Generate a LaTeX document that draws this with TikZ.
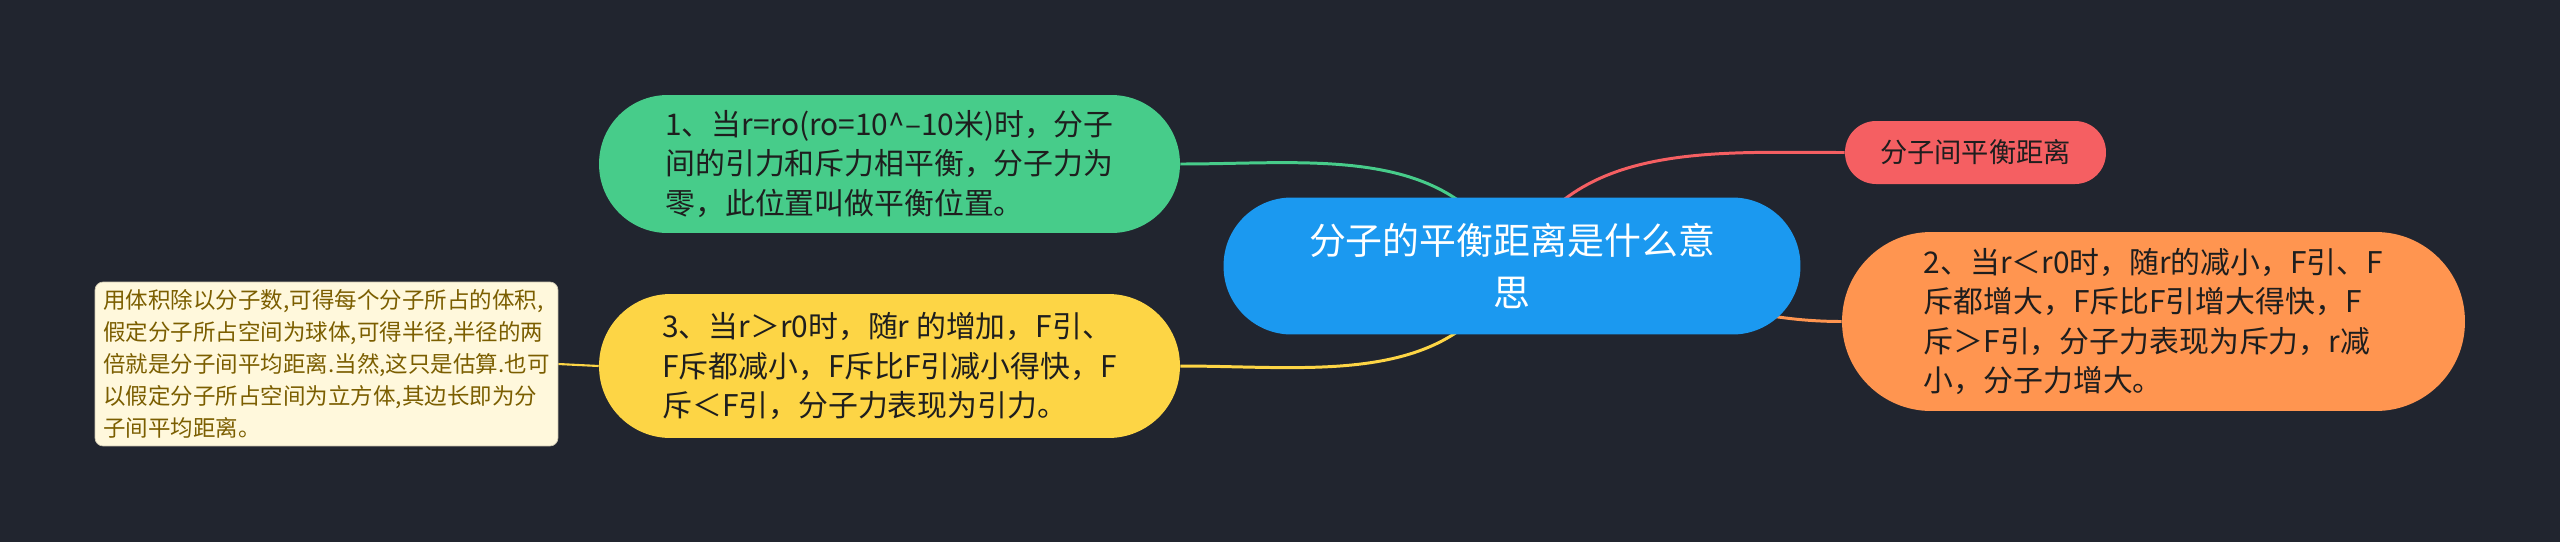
\documentclass[tikz,border=0pt]{standalone}
\usepackage{fontspec}
\setmainfont{Noto Sans CJK SC}

\definecolor{bgdark}{HTML}{21252F}
\definecolor{rootblue}{HTML}{1B99F0}
\definecolor{leafgreen}{HTML}{47CC8A}
\definecolor{leafred}{HTML}{F55F62}
\definecolor{leaforange}{HTML}{FF9550}
\definecolor{leafyellow}{HTML}{FDD545}
\definecolor{notefill}{HTML}{FFF8DC}
\definecolor{notetext}{HTML}{7B5E00}
\definecolor{textdark}{HTML}{1E1E1E}

\pgfdeclarelayer{bg}
\pgfdeclarelayer{edges}
\pgfsetlayers{bg,edges,main}

\tikzset{
    root/.style={
      fill=rootblue, text=white, inner sep=0pt, align=center,
      minimum width=11.54cm, minimum height=2.74cm, rounded corners=1.36cm,
      font=\fontsize{21}{29.6}\selectfont
    },
    leaf/.style={
      fill=#1, text=textdark, inner sep=0pt, align=left,
      font=\fontsize{17}{22.5}\selectfont
    },
    note/.style={
      fill=notefill, draw=notefill!80!black, line width=0.4pt, text=notetext,
      inner sep=0pt, align=left, minimum width=9.26cm, minimum height=3.28cm,
      rounded corners=0.16cm, font=\fontsize{12.8}{18.2}\selectfont
    },
    branch/.style={draw=#1, line width=1.7pt}
  }

\begin{document}
\begin{tikzpicture}[x=0.02cm, y=-0.02cm]
    \begin{pgfonlayer}{bg}
      \fill[bgdark] (0,0) rectangle (2560,542);
    \end{pgfonlayer}

    \node[root] (topic) at (1512,266) {分子的平衡距离是什么意\\思};

    \node[leaf=leafgreen, minimum width=11.62cm, minimum height=2.76cm,
      rounded corners=1.37cm] (one) at (889.5,164)
      {1、当r=ro(ro=10\textasciicircum–10米)时，分子\\
       间的引力和斥力相平衡，分子力为\\
       零，此位置叫做平衡位置。};

    \node[leaf=leafred, minimum width=5.22cm, minimum height=1.26cm,
      rounded corners=0.62cm, font=\fontsize{15.5}{20}\selectfont] (dist) at (1975.5,152.5)
      {分子间平衡距离};

    \node[leaf=leaforange, minimum width=12.46cm, minimum height=3.58cm,
      rounded corners=1.78cm] (two) at (2153.5,321.5)
      {2、当r＜r0时，随r的减小，F引、F\\
       斥都增大，F斥比F引增大得快，F\\
       斥＞F引，分子力表现为斥力，r减\\
       小，分子力增大。};

    \node[leaf=leafyellow, minimum width=11.62cm, minimum height=2.88cm,
      rounded corners=1.43cm] (three) at (889.5,366)
      {3、当r＞r0时，随r 的增加，F引、\\
       F斥都减小，F斥比F引减小得快，F\\
       斥＜F引，分子力表现为引力。};

    \node[note] (memo) at (326.5,364)
      {用体积除以分子数,可得每个分子所占的体积,\\
       假定分子所占空间为球体,可得半径,半径的两\\
       倍就是分子间平均距离.当然,这只是估算.也可\\
       以假定分子所占空间为立方体,其边长即为分\\
       子间平均距离。};

    \begin{pgfonlayer}{edges}
      \draw[branch=leafgreen] (one.east) to[out=0, in=115] (topic.center);
      \draw[branch=leafred] (dist.west) to[out=180, in=65] (topic.center);
      \draw[branch=leaforange] (two.west) to[out=180, in=0] (topic.center);
      \draw[branch=leafyellow] (three.east) to[out=0, in=245] (topic.center);
      \draw[branch=leafyellow, line width=1.2pt] (memo.east) -- (three.west);
    \end{pgfonlayer}

  \end{tikzpicture}
\end{document}
